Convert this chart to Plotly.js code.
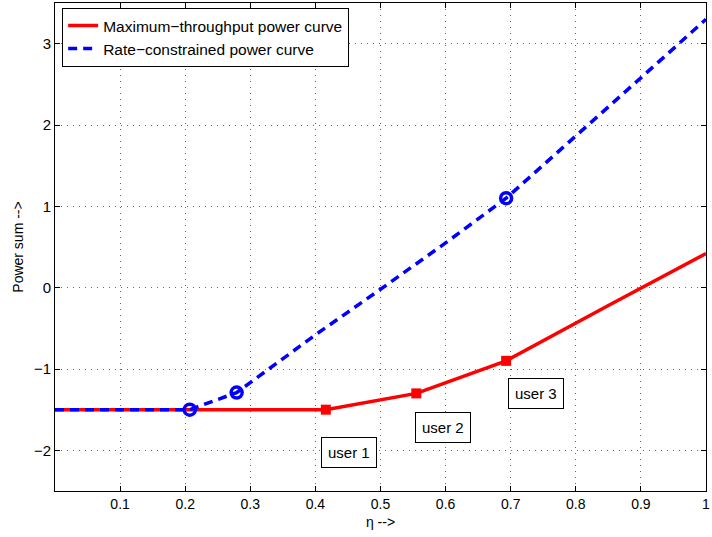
<!DOCTYPE html>
<html>
<head>
<meta charset="utf-8">
<script src="https://cdn.plot.ly/plotly-3.0.1.min.js"></script>
<style>html,body{margin:0;padding:0;background:#fff;}#chart{width:712px;height:537px;}</style>
</head>
<body>
<div id="chart"></div>
<script>
// Maximum-throughput power curve
const redX = [0, 0.416, 0.555, 0.693, 0.85, 1.0];
const redY = [-1.5, -1.5, -1.30, -0.90, -0.22, 0.42];
const redMarkX = [0.416, 0.555, 0.693];
const redMarkY = [-1.5, -1.30, -0.90];
// Rate-constrained power curve
const blueX = [0, 0.207, 0.279, 0.4, 0.5, 0.6, 0.693, 0.8, 0.9, 1.0];
const blueY = [-1.5, -1.5, -1.29, -0.58, -0.02, 0.55, 1.10, 1.86, 2.58, 3.30];
const blueMarkX = [0.207, 0.279, 0.693];
const blueMarkY = [-1.5, -1.29, 1.10];
// annotations
const userLabels = ['user 1', 'user 2', 'user 3'];
const userX = [0.452, 0.596, 0.739];
const userY = [-2.03, -1.72, -1.30];
const xTicks = [0.1,0.2,0.3,0.4,0.5,0.6,0.7,0.8,0.9,1];
const yTicks = [-2,-1,0,1,2,3];

const fam = 'Liberation Sans, Arial, sans-serif';
const font = {family: fam, size: 14, color: '#000'};

const traces = [
  {x: redX, y: redY, mode: 'lines', name: 'Maximum\u2212throughput power curve',
   line: {color: '#ff0000', width: 3.5}},
  {x: blueX, y: blueY, mode: 'lines', name: 'Rate\u2212constrained power curve',
   line: {color: '#0000ff', width: 3.5, dash: '9px,6px'}},
  {x: redMarkX, y: redMarkY, mode: 'markers', showlegend: false,
   marker: {symbol: 'square', color: '#ff0000', size: 10}},
  {x: blueMarkX, y: blueMarkY, mode: 'markers', showlegend: false,
   marker: {symbol: 'circle-open', color: '#0000ff', size: 11, line: {width: 3.5, color: '#0000ff'}}}
];

const annotations = userLabels.map((t, i) => ({
  x: userX[i], y: userY[i], xref: 'x', yref: 'y', text: t, showarrow: false,
  font: {family: fam, size: 15, color: '#000'},
  bordercolor: '#000', borderwidth: 1, bgcolor: '#fff', borderpad: 6
}));

const layout = {
  width: 712, height: 537,
  margin: {l: 55, r: 6, t: 3, b: 46},
  paper_bgcolor: '#fff', plot_bgcolor: '#fff',
  font: font,
  showlegend: true,
  legend: {x: 0.011, y: 0.99, xanchor: 'left', yanchor: 'top',
    bordercolor: '#000', borderwidth: 1, bgcolor: '#fff',
    font: {family: fam, size: 15.5, color: '#000'}, tracegroupgap: 0},
  xaxis: {range: [0, 1], tickvals: xTicks, ticktext: xTicks.map(String),
    showgrid: true, gridcolor: '#666', griddash: '1px,5px', gridwidth: 1,
    ticks: 'inside', ticklen: 5, tickcolor: '#000', showline: true, linecolor: '#000', linewidth: 1,
    mirror: 'ticks', zeroline: false, ticklabeloverflow: 'allow',
    tickfont: {family: fam, size: 14},
    title: {text: '\u03b7 -->', font: {family: fam, size: 14}, standoff: 6}},
  yaxis: {range: [-2.5, 3.5], tickvals: yTicks, ticktext: yTicks.map(v => v < 0 ? '\u2212' + Math.abs(v) : String(v)),
    showgrid: true, gridcolor: '#666', griddash: '1px,5px', gridwidth: 1,
    ticks: 'inside', ticklen: 5, tickcolor: '#000', showline: true, linecolor: '#000', linewidth: 1,
    mirror: 'ticks', zeroline: false, ticklabeloverflow: 'allow',
    tickfont: {family: fam, size: 15},
    title: {text: 'Power sum -->', font: {family: fam, size: 14}, standoff: 6}},
  annotations: annotations
};

Plotly.newPlot('chart', traces, layout, {displayModeBar: false, staticPlot: true});
</script>
</body>
</html>
